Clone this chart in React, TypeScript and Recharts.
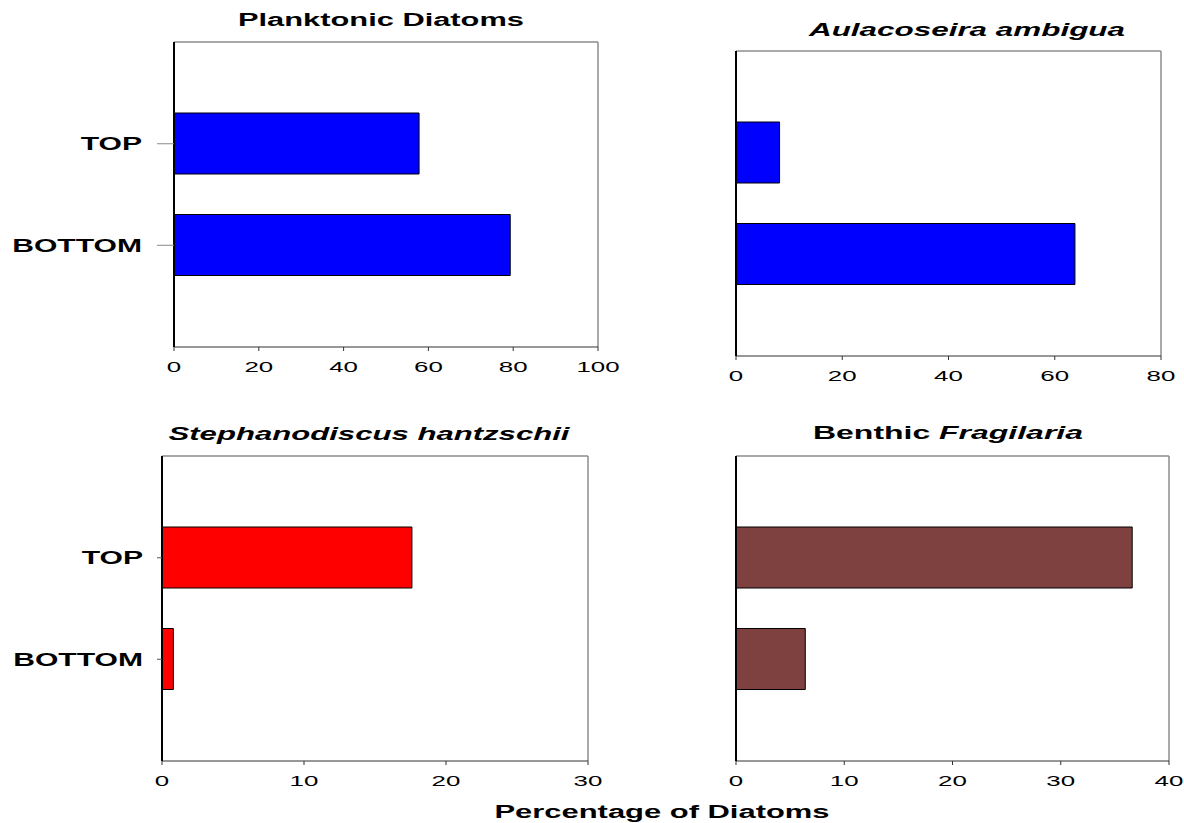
import React from 'react';
import { BarChart, Bar, XAxis, YAxis, CartesianGrid } from 'recharts';

const categories = ['TOP', 'BOTTOM'];
const planktonicValues = [57.8, 79.3];
const aulacoseiraValues = [8.2, 63.8];
const stephanodiscusValues = [17.6, 0.8];
const fragilariaValues = [36.6, 6.4];

const planktonicTicks = [0, 20, 40, 60, 80, 100];
const aulacoseiraTicks = [0, 20, 40, 60, 80];
const stephanodiscusTicks = [0, 10, 20, 30];
const fragilariaTicks = [0, 10, 20, 30, 40];

const FONT = '"Liberation Sans", Arial, Helvetica, sans-serif';

const buildData = (values: number[]) =>
  categories.map((c, i) => ({ name: c, value: values[i] }));

const XTick = (props: any) => {
  const { x, y, payload } = props;
  return (
    <text
      transform={`translate(${x},${y}) scale(1.85,1)`}
      textAnchor="middle"
      dy="0.71em"
      fontFamily={FONT}
      fontSize={14}
      fill="#000"
    >
      {payload.value}
    </text>
  );
};

const YTick = (props: any) => {
  const { x, y, payload } = props;
  return (
    <text
      transform={`translate(${x},${y}) scale(1.72,1)`}
      textAnchor="end"
      dy="0.36em"
      fontFamily={FONT}
      fontWeight="bold"
      fontSize={17.5}
      fill="#000"
    >
      {payload.value}
    </text>
  );
};

// frame lines: right edge and top edge of the plot area, derived from the chart offset
const rightEdge = (arg: any) => {
  const o = arg && arg.offset ? arg.offset : {};
  return [(o.left ?? 0) + (o.width ?? 0)];
};
const topEdge = (arg: any) => {
  const o = arg && arg.offset ? arg.offset : {};
  return [o.top ?? 0];
};

type PanelProps = {
  values: number[];
  ticks: number[];
  color: string;
  left: number;
  top: number;
  width: number;
  height: number;
  yWidth: number;
  mRight: number;
  mTop: number;
  mBottom: number;
  showLabels: boolean;
  ytSize: number;
  ytMargin: number;
  ytColor: string;
};

const Panel = (p: PanelProps) => {
  const data = buildData(p.values);
  const max = p.ticks[p.ticks.length - 1];
  return (
    <div style={{ position: 'absolute', left: p.left, top: p.top, width: p.width, height: p.height }}>
      <BarChart
        layout="vertical"
        width={p.width}
        height={p.height}
        data={data}
        margin={{ top: p.mTop, right: p.mRight, bottom: p.mBottom, left: 0 }}
      >
        <CartesianGrid
          stroke="#8c8c8c"
          strokeWidth={1.5}
          fill="none"
          verticalCoordinatesGenerator={rightEdge}
          horizontalCoordinatesGenerator={topEdge}
          syncWithTicks={false}
        />
        <XAxis
          type="number"
          domain={[0, max]}
          ticks={p.ticks}
          interval={0}
          height={30}
          tickSize={4}
          tickMargin={11}
          tick={<XTick />}
          axisLine={{ stroke: '#333', strokeWidth: 1.2 }}
          tickLine={{ stroke: '#333' }}
        />
        <YAxis
          type="category"
          dataKey="name"
          width={p.yWidth}
          padding={{ top: 51, bottom: 51 }}
          tickSize={p.ytSize}
          tickMargin={p.ytMargin}
          tick={p.showLabels ? <YTick /> : false}
          axisLine={{ stroke: '#000', strokeWidth: 2 }}
          tickLine={{ stroke: p.ytColor }}
        />
        <Bar
          dataKey="value"
          fill={p.color}
          stroke="#000"
          strokeWidth={1}
          barSize={61}
          isAnimationActive={false}
        />
      </BarChart>
    </div>
  );
};

export default function App() {
  return (
    <div
      style={{
        position: 'absolute',
        left: 0,
        top: 0,
        width: 1184,
        height: 823,
        background: '#fff',
        fontFamily: FONT,
      }}
    >
      <Panel
        values={planktonicValues}
        ticks={planktonicTicks}
        color="#0000ff"
        left={0}
        top={0}
        width={640}
        height={400}
        yWidth={174}
        mRight={42}
        mTop={42}
        mBottom={23}
        showLabels={true}
        ytSize={17}
        ytMargin={15}
        ytColor="#888"
      />
      <Panel
        values={aulacoseiraValues}
        ticks={aulacoseiraTicks}
        color="#0000ff"
        left={640}
        top={0}
        width={544}
        height={400}
        yWidth={96}
        mRight={23}
        mTop={51}
        mBottom={14}
        showLabels={false}
        ytSize={5}
        ytMargin={4}
        ytColor="#333"
      />
      <Panel
        values={stephanodiscusValues}
        ticks={stephanodiscusTicks}
        color="#ff0000"
        left={0}
        top={400}
        width={640}
        height={423}
        yWidth={162}
        mRight={52}
        mTop={56}
        mBottom={32}
        showLabels={true}
        ytSize={5}
        ytMargin={14}
        ytColor="#555"
      />
      <Panel
        values={fragilariaValues}
        ticks={fragilariaTicks}
        color="#7f4040"
        left={640}
        top={400}
        width={544}
        height={423}
        yWidth={96}
        mRight={15}
        mTop={56}
        mBottom={32}
        showLabels={false}
        ytSize={8}
        ytMargin={4}
        ytColor="#555"
      />
      <svg
        width={1184}
        height={823}
        style={{ position: 'absolute', left: 0, top: 0, pointerEvents: 'none' }}
      >
        <g fontFamily={FONT} fontWeight="bold" fontSize={17.5} fill="#000">
          <text x={381} y={26} textAnchor="middle" textLength={286} lengthAdjust="spacingAndGlyphs">
            Planktonic Diatoms
          </text>
          <text x={967} y={36} textAnchor="middle" fontStyle="italic" textLength={316} lengthAdjust="spacingAndGlyphs">
            Aulacoseira ambigua
          </text>
          <text x={369} y={440} textAnchor="middle" fontStyle="italic" textLength={401} lengthAdjust="spacingAndGlyphs">
            Stephanodiscus hantzschii
          </text>
          <text x={948} y={439} textAnchor="middle" textLength={270} lengthAdjust="spacingAndGlyphs">
            Benthic <tspan fontStyle="italic">Fragilaria</tspan>
          </text>
          <text x={662} y={818} textAnchor="middle" textLength={335} lengthAdjust="spacingAndGlyphs">
            Percentage of Diatoms
          </text>
        </g>
      </svg>
    </div>
  );
}
